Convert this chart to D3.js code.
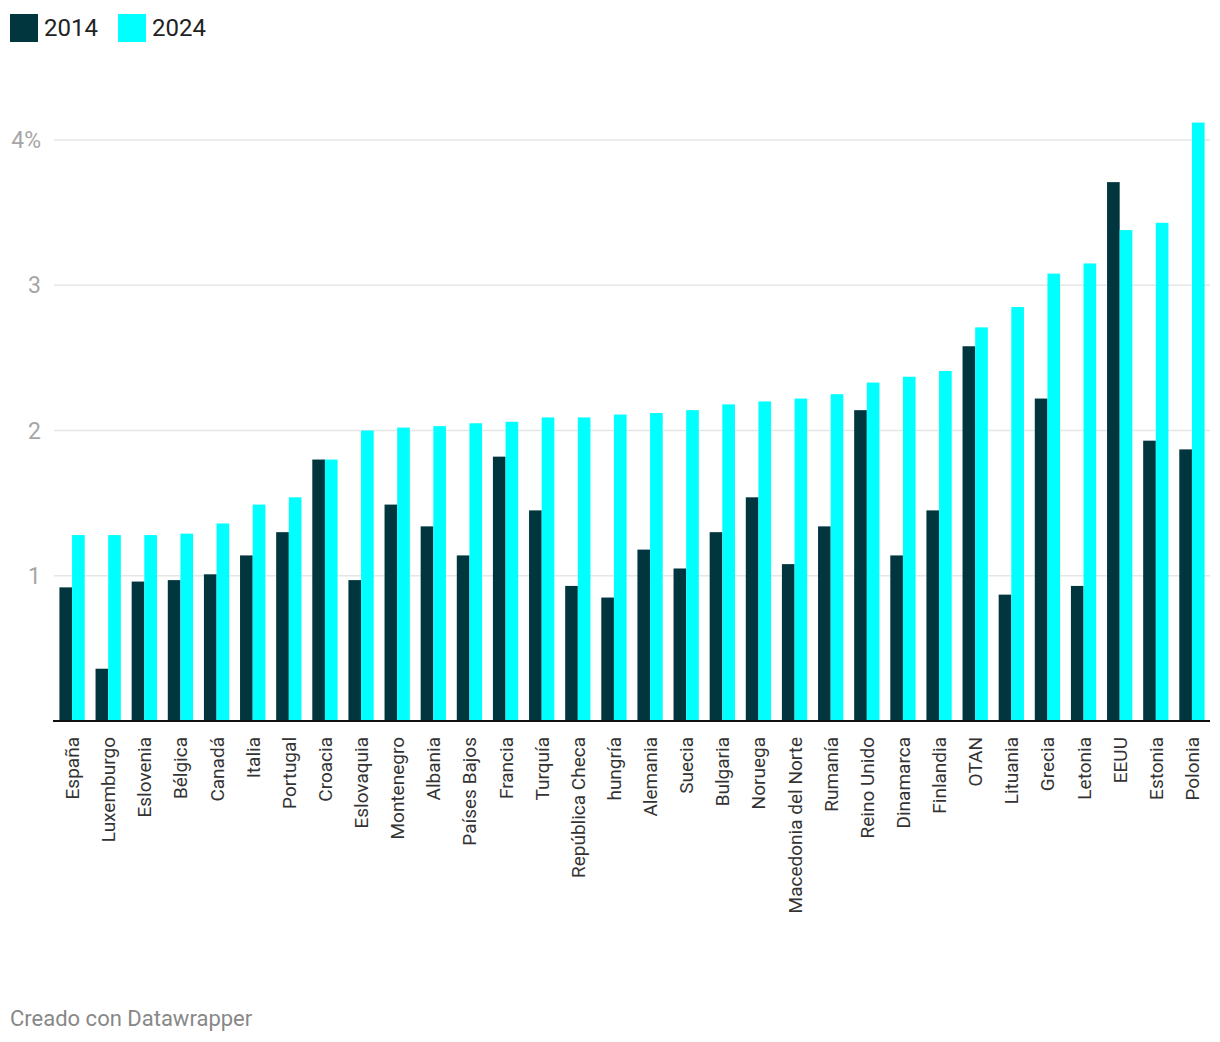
<!DOCTYPE html>
<html><head><meta charset="utf-8">
<script src="https://cdn.jsdelivr.net/npm/d3@7"></script>
<style>body{margin:0;background:#fff;font-family:Roboto,"Noto Sans",sans-serif;}</style>
</head><body><svg id="c" width="1220" height="1042"></svg>
<script>
const categories = ["España","Luxemburgo","Eslovenia","Bélgica","Canadá","Italia","Portugal","Croacia","Eslovaquia","Montenegro","Albania","Países Bajos","Francia","Turquía","República Checa","hungría","Alemania","Suecia","Bulgaria","Noruega","Macedonia del Norte","Rumanía","Reino Unido","Dinamarca","Finlandia","OTAN","Lituania","Grecia","Letonia","EEUU","Estonia","Polonia"];
const values2014 = [0.92,0.36,0.96,0.97,1.01,1.14,1.30,1.80,0.97,1.49,1.34,1.14,1.82,1.45,0.93,0.85,1.18,1.05,1.30,1.54,1.08,1.34,2.14,1.14,1.45,2.58,0.87,2.22,0.93,3.71,1.93,1.87];
const values2024 = [1.28,1.28,1.28,1.29,1.36,1.49,1.54,1.80,2.00,2.02,2.03,2.05,2.06,2.09,2.09,2.11,2.12,2.14,2.18,2.20,2.22,2.25,2.33,2.37,2.41,2.71,2.85,3.08,3.15,3.38,3.43,4.12];
const seriesNames = ["2014","2024"];
const yTicks = [1,2,3,4];
const yTickLabels = ["1","2","3","4%"];

const colors = {"2014":"#02363f","2024":"#00ffff"};
const svg = d3.select("#c");
const x0 = d3.scaleBand().domain(categories).range([54,1210]).paddingInner(0.3).paddingOuter(0.15);
const x1 = d3.scaleBand().domain(seriesNames).range([0,x0.bandwidth()]);
const y = d3.scaleLinear().domain([0,4]).range([721,140]);

// gridlines
svg.append("g").selectAll("line").data(yTicks).join("line")
  .attr("x1",54).attr("x2",1210).attr("y1",d=>y(d)).attr("y2",d=>y(d))
  .attr("stroke","#e6e6e6").attr("stroke-width",1.5);
svg.append("g").selectAll("text").data(yTicks).join("text")
  .attr("x",41).attr("y",d=>y(d)+8).attr("text-anchor","end")
  .attr("font-size",23).attr("fill","#a6a6a6").text((d,i)=>yTickLabels[i]);

// bars
const data = categories.map((c,i)=>({c, vals:[{s:"2014",v:values2014[i]},{s:"2024",v:values2024[i]}]}));
const g = svg.append("g").selectAll("g").data(data).join("g")
  .attr("transform",d=>`translate(${x0(d.c)},0)`);
g.selectAll("rect").data(d=>d.vals).join("rect")
  .attr("x",d=>x1(d.s)).attr("width",x1.bandwidth())
  .attr("y",d=>y(d.v)).attr("height",d=>y(0)-y(d.v))
  .attr("fill",d=>colors[d.s]);

// baseline
svg.append("line").attr("x1",53).attr("x2",1210).attr("y1",721).attr("y2",721)
  .attr("stroke","#111").attr("stroke-width",2);

// x labels
svg.append("g").selectAll("text").data(categories).join("text")
  .attr("transform",d=>`translate(${x0(d)+x0.bandwidth()/2+7},737) rotate(-90)`)
  .attr("text-anchor","end").attr("font-size",19).attr("fill","#333").text(d=>d);

// legend
const leg = svg.append("g");
const legX = [10,118];
seriesNames.forEach((s,i)=>{
  leg.append("rect").attr("x",legX[i]).attr("y",14).attr("width",28).attr("height",28).attr("fill",colors[s]);
  leg.append("text").attr("x",legX[i]+34).attr("y",36).attr("font-size",24).attr("fill","#222").text(s);
});

// footer
svg.append("text").attr("x",10).attr("y",1026).attr("font-size",22).attr("fill","#888").text("Creado con Datawrapper");
</script></body></html>
